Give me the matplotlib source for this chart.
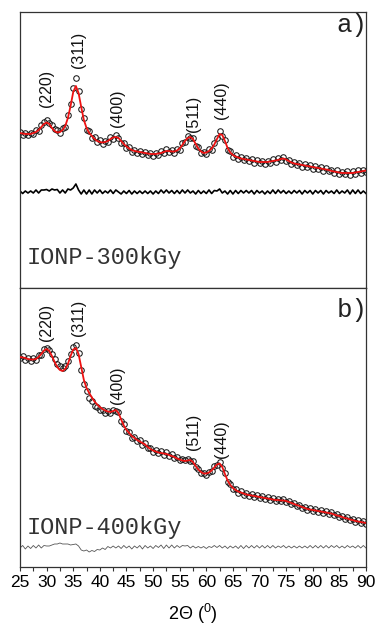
import numpy as np
import matplotlib
matplotlib.use("Agg")
import matplotlib.pyplot as plt
from matplotlib.ticker import MultipleLocator

plt.rcParams['mathtext.fontset'] = 'custom'
plt.rcParams['mathtext.rm'] = 'Liberation Sans'
plt.rcParams['mathtext.it'] = 'Liberation Sans'

two_theta = np.arange(25.0, 90.01, 0.5)

# Panel a) IONP-300kGy (arbitrary intensity units)
obs_a = [156,153,155,153,155,154,158,157,163,166,168,165,163,159,158,155,160,161,173,184,
         200,210,197,179,170,158,157,150,151,146,148,144,147,146,151,149,153,150,145,145,
         140,141,136,138,135,137,134,136,133,135,132,135,133,137,135,139,136,138,135,139,
         138,145,146,152,150,150,142,141,135,136,134,139,138,145,150,157,152,148,138,137,
         131,133,129,131,128,130,127,129,125,128,125,127,124,127,125,129,126,130,128,131,
         127,128,124,126,123,125,121,124,121,123,119,122,119,121,117,120,117,118,115,118,
         114,116,114,117,113,117,114,118,115,118,116]
fit_a = [155,154.5,154,154,154,155,156,158,161,164,165.5,164,160,157,155.5,156,158,162,170,182,
         196,202,195,181,168,160,155,152,149,147,146,145.5,146,147,149,150.5,151,150,147,144,
         141.5,139.5,138,137,136.5,136,135.5,135,134.5,134,134,134,134.5,135,136,137,137,136.5,136.5,137.5,
         139.5,143,147,150,151,149,144,139.5,136.5,135,135.5,137,139.5,143.5,149,154,153,147,140,135.5,
         133,131.5,130.5,129.5,129,128.5,128,127.5,127,126.5,126,126,126,126,126.5,127,127.5,128,129,129.5,
         128.5,127,125.5,124.5,124,123.5,123,122.5,122,121.5,121,120.5,120,119.5,119,118.5,118,117,116.5,116,
         115.5,115,115,115,115,115,115.5,116,116.5,117,117.5]

# Panel b) IONP-400kGy
obs_b = [209,211,207,209,206,209,207,212,212,218,219,217,213,208,203,201,199,201,206,213,
         220,222,214,197,183,176,169,166,161,160,157,157,154,156,154,157,156,155,146,143,
         136,135,129,130,126,127,122,124,119,119,115,117,114,116,112,115,111,113,109,110,
         107,108,107,108,106,106,100,98,94,94,92,95,96,101,102,105,99,94,85,83,
         78,78,74,76,72,74,71,73,70,72,69,71,68,70,67,69,66,68,66,68,
         65,66,63,64,61,62,59,60,57,59,56,58,55,57,54,56,53,55,52,53,
         50,51,48,50,47,48,45,47,44,46,43]
fit_b = [210,209.5,209,208,207.5,207.5,208,210,213,216.5,218,216,211,205,200,197,196,198,203,211,
         217.5,219,213,200,187,179,174,169.5,165.5,162.5,160,158,156.5,155.5,155,156,157,154,147.5,141.5,
         137,134,131,129,127,125.5,124,122.5,120,118,116.5,115.5,114.5,114,113.5,113,112,111,110,108.5,
         107.5,106.5,106,106.5,107,105,101,97.5,95,93.5,93.5,94.5,96.5,99.5,102.5,103.5,100,93,86.5,82,
         79,77,75.5,74.5,73.5,72.5,72,71.5,71,70.5,70,69.5,69,68.5,68,67.5,67,67,66.5,66.5,
         66,65,64,63,62,61,60,59,58,57.5,57,56.5,56,55.5,55,54.5,54,53.5,52.5,51.5,
         51,50,49,48.5,47.5,47,46,45.5,45,44.5,44]

residual_offset_a = 96
residual_offset_b = 20

peak_labels = ['(220)', '(311)', '(400)', '(511)', '(440)']
peak_x = [30.0, 36.0, 43.4, 57.5, 62.8]
label_y_a = [200, 238, 180, 174, 188]
label_y_b = [245, 249, 182, 135, 128]

x_ticks = list(range(25, 91, 5))

fig = plt.figure(figsize=(3.75, 6.27), dpi=100)
left, right = 20/375, 366/375
top_y, mid_y, bot_y = 1 - 12/627, 1 - 288/627, 1 - 567/627
ax_a = fig.add_axes([left, mid_y, right - left, top_y - mid_y])
ax_b = fig.add_axes([left, bot_y, right - left, mid_y - bot_y], sharex=ax_a)

spine_col = '#333333'
panels = [
    (ax_a, obs_a, fit_a, residual_offset_a, label_y_a, 'a)', 'IONP-300kGy', 276, 0.109, 0.953, 'black', 1.2),
    (ax_b, obs_b, fit_b, residual_offset_b, label_y_b, 'b)', 'IONP-400kGy', 279, 0.143, 0.921, '#555555', 0.6),
]
for ax, obs, fit, off, ly, tag, name, ymax, name_y, tag_y, rcol, rlw in panels:
    obs = np.array(obs, dtype=float)
    fit = np.array(fit, dtype=float)
    resid = obs - fit + off
    ax.plot(two_theta, obs, linestyle='none', marker='o', markersize=4.0,
            markerfacecolor='none', markeredgecolor='#1a1a1a', markeredgewidth=0.75, zorder=2)
    ax.plot(two_theta, fit, color='#ee1111', lw=1.3, zorder=3)
    ax.plot(two_theta, resid, color=rcol, lw=rlw, zorder=2)
    for lab, px, py in zip(peak_labels, peak_x, ly):
        ax.text(px, py, lab, rotation=90, ha='center', va='center',
                fontsize=11.5, family='Liberation Sans', color='#111111')
    ax.text(0.914, tag_y, tag, transform=ax.transAxes, ha='left', va='center',
            fontsize=18.5, family='Liberation Mono', color='#222222', clip_on=True)
    ax.text(0.02, name_y, name, transform=ax.transAxes, ha='left', va='center',
            fontsize=17, family='Liberation Mono', color='#333333')
    ax.set_ylim(0, ymax)
    ax.set_yticks([])
    for s in ax.spines.values():
        s.set_color(spine_col)
        s.set_linewidth(0.9)

ax_a.set_xlim(25, 90)
ax_a.tick_params(axis='x', which='both', bottom=False, labelbottom=False)
ax_b.set_xticks(x_ticks)
ax_b.xaxis.set_minor_locator(MultipleLocator(2.5))
ax_b.tick_params(axis='x', which='both', direction='out', length=3, width=0.8,
                 color=spine_col, labelsize=12.5, pad=3)
for t in ax_b.get_xticklabels():
    t.set_family('Liberation Sans')
ax_b.set_xlabel('2Θ ($^{0}$)', fontsize=13, family='Liberation Sans', labelpad=8)

fig.savefig('out.png', dpi=100)
